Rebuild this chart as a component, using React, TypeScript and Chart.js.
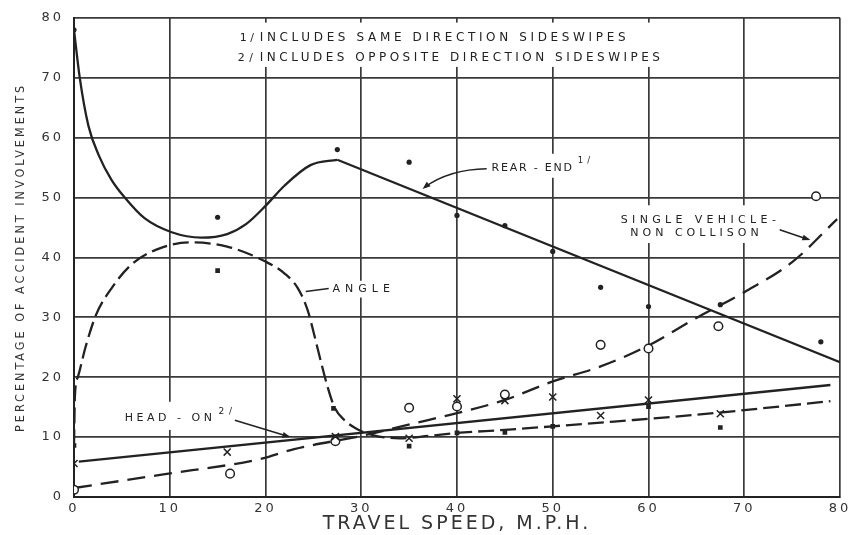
import React, { useEffect, useRef } from 'react';
import { Chart, registerables } from 'chart.js';

Chart.register(...registerables);

// ---- data ----
const speedMin = 0;
const speedMax = 80;
const percentMin = 0;
const percentMax = 80;
const tickStep = 10;

// Rear-end fitted curve (solid)
const rearCurveX = [0, 0.6, 1.5, 2.6, 3.9, 5.3, 7.4, 10.2, 13.3, 16, 18, 20, 22, 24.7, 27.5];
const rearCurveY = [78, 70, 62, 57, 53, 50, 46.5, 44.2, 43.3, 43.9, 45.6, 48.6, 52, 55.4, 56.3];
const rearLineX = [27.5, 80];
const rearLineY = [56.3, 22.5];
const rearDotX = [0, 15, 27.5, 35, 40, 45, 50, 55, 60, 67.5, 78];
const rearDotY = [78, 46.7, 58, 55.9, 47, 45.3, 41, 35, 31.8, 32.1, 25.9];

// Angle fitted curve (dashed)
const angleCurveX = [0, 0.1, 0.4, 1.2, 2.3, 3.9, 6, 8.6, 12.2, 16, 20, 22, 23.4, 24.4, 25.1, 25.8, 26.5, 27.2, 28.2, 29.5, 31.3, 34, 37, 40, 45, 50, 56.4, 62.7, 70, 79];
const angleCurveY = [8.6, 17, 20, 25, 30.4, 34.8, 38.8, 41.3, 42.5, 41.8, 39.3, 37.3, 34.8, 31.2, 27, 22.5, 18.3, 15, 12.9, 11.4, 10.3, 9.8, 10.2, 10.7, 11.2, 11.8, 12.6, 13.4, 14.5, 16];
const angleSqX = [0, 15, 27.1, 35, 40, 45, 50, 60, 67.5];
const angleSqY = [8.6, 37.8, 14.8, 8.5, 10.7, 10.8, 11.8, 15.1, 11.6];

// Head-on fitted line (solid)
const headOnLineX = [0.5, 79];
const headOnLineY = [5.9, 18.7];
const headOnPtX = [0, 16, 27.3, 35, 40, 45, 50, 55, 60, 67.5];
const headOnPtY = [5.6, 7.5, 10.1, 9.8, 16.4, 16.1, 16.7, 13.6, 16.2, 13.9];

// Single vehicle - non collision fitted curve (dashed)
const singleCurveX = [0, 9, 19.6, 23, 30, 35.5, 40, 45, 50, 55, 60, 65, 70, 75, 79.7];
const singleCurveY = [1.5, 3.7, 6.4, 8, 10.2, 12.3, 14, 16.2, 19.3, 21.8, 25.3, 29.9, 34.2, 39.2, 46.4];
const singlePtX = [0, 16.3, 27.3, 35, 40, 45, 55, 60, 67.3, 77.5];
const singlePtY = [1.2, 3.9, 9.3, 14.9, 15.1, 17.1, 25.4, 24.8, 28.5, 50.2];

const xTitle = 'TRAVEL SPEED, M.P.H.';
const yTitle = 'PERCENTAGE OF ACCIDENT INVOLVEMENTS';
const note1 = 'INCLUDES SAME DIRECTION SIDESWIPES';
const note2 = 'INCLUDES OPPOSITE DIRECTION SIDESWIPES';

const pts = (xs: number[], ys: number[]) => xs.map((x, i) => ({ x, y: ys[i] }));

const INK = '#222';
const FONT = 'DejaVu Sans';

function fitText(ctx: CanvasRenderingContext2D, text: string, x0: number, x1: number, yc: number, size: number, family = FONT) {
  ctx.font = `${size}px "${family}"`;
  (ctx as any).letterSpacing = '0px';
  const w = ctx.measureText(text).width;
  const n = text.length;
  const sp = n > 1 ? Math.max(0, (x1 - x0 - w) / (n - 1)) : 0;
  (ctx as any).letterSpacing = sp + 'px';
  ctx.textAlign = 'left';
  ctx.textBaseline = 'middle';
  ctx.fillText(text, x0, yc);
}

function arrowHead(ctx: CanvasRenderingContext2D, fx: number, fy: number, tx: number, ty: number) {
  const a = Math.atan2(ty - fy, tx - fx);
  const L = 8, W = 3;
  ctx.beginPath();
  ctx.moveTo(tx, ty);
  ctx.lineTo(tx - L * Math.cos(a) + W * Math.sin(a), ty - L * Math.sin(a) - W * Math.cos(a));
  ctx.lineTo(tx - L * Math.cos(a) - W * Math.sin(a), ty - L * Math.sin(a) + W * Math.cos(a));
  ctx.closePath();
  ctx.fill();
}

const spacingPlugin = {
  id: 'spacing',
  beforeDraw(chart: any) {
    chart.ctx.letterSpacing = '3px';
  },
};

const annotationPlugin = {
  id: 'annotations',
  beforeDatasetsDraw(chart: any) {
    const ctx: CanvasRenderingContext2D = chart.ctx;
    const xs = chart.scales.x;
    const ys = chart.scales.y;
    const px = (v: number) => xs.getPixelForValue(v);
    const py = (v: number) => ys.getPixelForValue(v);
    ctx.save();
    // white label boxes (interrupt grid)
    ctx.fillStyle = '#ffffff';
    const boxes = [
      [16.3, 62.5, 71.8, 79.2],
      [43.1, 54.6, 53.3, 57.3],
      [26.5, 33.8, 33.3, 36.1],
      [4.7, 17.0, 11.2, 15.9],
      [56.5, 74.5, 42.4, 48.7],
    ];
    for (const b of boxes) {
      ctx.fillRect(px(b[0]), py(b[3]), px(b[1]) - px(b[0]), py(b[2]) - py(b[3]));
    }
    ctx.fillStyle = INK;
    ctx.strokeStyle = INK;
    // footnotes
    fitText(ctx, '1/', px(17.3), px(18.8), py(76.6), 11);
    fitText(ctx, note1, px(19.4), px(57.6), py(76.6), 12);
    fitText(ctx, '2/', px(17.1), px(18.7), py(73.3), 11);
    fitText(ctx, note2, px(19.4), px(61.2), py(73.3), 12);
    // Rear-end label
    fitText(ctx, 'REAR - END', px(43.6), px(52.0), py(54.9), 11);
    fitText(ctx, '1/', px(52.6), px(53.9), py(56.1), 8.5);
    // Angle label
    fitText(ctx, 'ANGLE', px(27.0), px(33.0), py(34.7), 11);
    // Head-on label
    fitText(ctx, 'HEAD - ON', px(5.3), px(14.4), py(13.1), 11);
    fitText(ctx, '2/', px(15.1), px(16.5), py(14.3), 9);
    // Single vehicle label
    fitText(ctx, 'SINGLE VEHICLE-', px(57.1), px(73.3), py(46.3), 11);
    fitText(ctx, 'NON COLLISON', px(58.1), px(71.5), py(44.1), 11);

    // leaders
    ctx.lineWidth = 1.6;
    (ctx as any).letterSpacing = '0px';
    // rear-end arrow (curved)
    ctx.beginPath();
    ctx.moveTo(px(43.1), py(54.8));
    ctx.quadraticCurveTo(px(39.2), py(54.7), px(36.6), py(51.7));
    ctx.stroke();
    arrowHead(ctx, px(38.3), py(53.9), px(36.4), py(51.4));
    // angle leader
    ctx.beginPath();
    ctx.moveTo(px(26.6), py(34.8));
    ctx.lineTo(px(24.2), py(34.3));
    ctx.stroke();
    // head-on arrow
    ctx.beginPath();
    ctx.moveTo(px(16.8), py(12.8));
    ctx.lineTo(px(22.4), py(10.1));
    ctx.stroke();
    arrowHead(ctx, px(16.8), py(12.8), px(22.6), py(10.0));
    // single vehicle arrow
    ctx.beginPath();
    ctx.moveTo(px(73.7), py(44.6));
    ctx.lineTo(px(76.7), py(43.0));
    ctx.stroke();
    arrowHead(ctx, px(73.7), py(44.6), px(76.9), py(42.9));
    ctx.restore();
  },
};

export default function App() {
  const ref = useRef<HTMLCanvasElement | null>(null);

  useEffect(() => {
    if (!ref.current) return;
    const lineBase = {
      showLine: true,
      pointRadius: 0,
      pointHoverRadius: 0,
      borderColor: INK,
      borderWidth: 2.3,
      fill: false,
    };
    const chart = new Chart(ref.current, {
      type: 'scatter',
      data: {
        datasets: [
          {
            label: 'Rear-end (observed)',
            data: pts(rearDotX, rearDotY),
            pointStyle: 'circle',
            pointRadius: 2.6,
            backgroundColor: INK,
            borderWidth: 0,
          },
          {
            label: 'Angle (observed)',
            data: pts(angleSqX, angleSqY),
            pointStyle: 'rect',
            pointRadius: 3.3,
            backgroundColor: INK,
            borderWidth: 0,
          },
          {
            label: 'Head-on (observed)',
            data: pts(headOnPtX, headOnPtY),
            pointStyle: 'crossRot',
            pointRadius: 5,
            borderColor: INK,
            borderWidth: 1.5,
          },
          {
            label: 'Single vehicle (observed)',
            data: pts(singlePtX, singlePtY),
            pointStyle: 'circle',
            pointRadius: 4.3,
            backgroundColor: '#ffffff',
            borderColor: INK,
            borderWidth: 1.5,
          },
          { ...lineBase, label: 'Rear-end', data: pts(rearCurveX, rearCurveY), cubicInterpolationMode: 'monotone' },
          { ...lineBase, label: 'Rear-end line', data: pts(rearLineX, rearLineY), tension: 0 },
          { ...lineBase, label: 'Angle', data: pts(angleCurveX, angleCurveY), cubicInterpolationMode: 'monotone', borderDash: [16, 6] },
          { ...lineBase, label: 'Head-on', data: pts(headOnLineX, headOnLineY), tension: 0 },
          { ...lineBase, label: 'Single vehicle - non collision', data: pts(singleCurveX, singleCurveY), cubicInterpolationMode: 'monotone', borderDash: [18, 9] },
        ],
      } as any,
      options: {
        responsive: false,
        animation: false,
        devicePixelRatio: 1,
        layout: { padding: { left: 0, top: 8, right: 17, bottom: 0 } },
        plugins: {
          legend: { display: false },
          tooltip: { enabled: false },
        },
        events: [],
        scales: {
          x: {
            type: 'linear',
            position: 'bottom',
            min: speedMin,
            max: speedMax,
            afterFit: (s: any) => { s.height = 38; },
            ticks: {
              stepSize: tickStep,
              autoSkip: false,
              maxRotation: 0,
              padding: 4,
              color: '#333',
              font: { family: FONT, size: 13 },
            },
            grid: { color: '#3a3a3a', lineWidth: 1.7, drawTicks: false },
            border: { color: '#222', width: 2 },
            title: {
              display: true,
              text: xTitle,
              color: '#333',
              font: { family: FONT, size: 19 },
              padding: { top: 0, bottom: 0 },
            },
          },
          y: {
            type: 'linear',
            min: percentMin,
            max: percentMax,
            afterFit: (s: any) => { s.width = 74; },
            ticks: {
              stepSize: tickStep,
              padding: 10,
              color: '#333',
              font: { family: FONT, size: 13 },
            },
            grid: { color: '#3a3a3a', lineWidth: 1.7, drawTicks: false },
            border: { color: '#222', width: 2 },
            title: {
              display: true,
              text: yTitle,
              color: '#333',
              font: { family: '"DejaVu Sans Condensed", "DejaVu Sans", sans-serif', size: 12.5 },
              padding: { top: 13, bottom: 0 },
            },
          },
        },
      } as any,
      plugins: [spacingPlugin, annotationPlugin] as any,
    });
    return () => chart.destroy();
  }, []);

  return (
    <div style={{ position: 'fixed', left: 0, top: 0, width: 857, height: 535, background: '#fff' }}>
      <canvas ref={ref} width={857} height={535} style={{ display: 'block' }} />
    </div>
  );
}
